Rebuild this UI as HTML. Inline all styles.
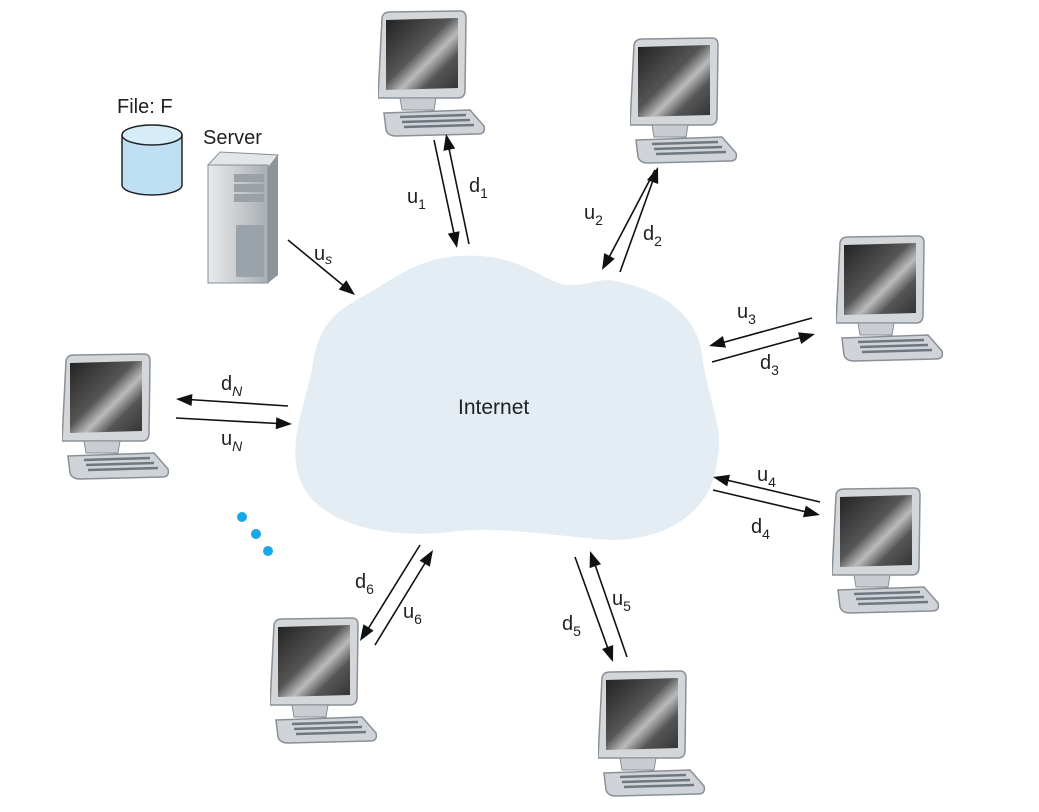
<!DOCTYPE html>
<html><head><style>html,body{margin:0;padding:0;background:#fff}svg{display:block}text{font-family:"Liberation Sans",sans-serif;fill:#222}</style></head>
<body>
<svg width="1039" height="812" viewBox="0 0 1039 812" xmlns="http://www.w3.org/2000/svg">
<defs>
<linearGradient id="scr" x1="0" y1="0" x2="1" y2="1">
<stop offset="0" stop-color="#222"/><stop offset="0.45" stop-color="#555"/><stop offset="0.6" stop-color="#bbb"/><stop offset="0.75" stop-color="#555"/><stop offset="1" stop-color="#333"/></linearGradient>
<linearGradient id="body" x1="0" y1="0" x2="1" y2="0"><stop offset="0" stop-color="#e8eaec"/><stop offset="1" stop-color="#a9aeb3"/></linearGradient>
<symbol id="pc" viewBox="0 0 120 130" width="120" height="130">
<path d="M0,88 L4,8 Q5,2 12,2 L82,1 Q88,1 88,8 L87,80 Q87,88 80,88 Z" fill="#d4d7da" stroke="#8a9096" stroke-width="1.5"/>
<path d="M8,10 L80,8 L80,78 L8,80 Z" fill="url(#scr)"/>
<path d="M22,88 L58,88 L56,100 L24,100 Z" fill="#c9cdd1" stroke="#8a9096"/>
<path d="M6,103 L92,100 L106,116 Q108,124 100,124 L18,126 Q10,126 8,120 Z" fill="#d0d4d8" stroke="#8a9096" stroke-width="1.5"/>
<path d="M22,107 L88,105 M24,112 L92,110 M26,117 L96,115" stroke="#6f7880" stroke-width="2.5"/>
</symbol>
</defs>

<path d="M460,256 C520,252 545,283 567,285 C590,286 600,276 620,282 C680,295 700,330 702,355 C708,400 725,430 717,460 C715,500 680,540 610,540 C560,537 500,525 450,532 C400,538 330,530 305,490 C285,455 300,420 312,370 C318,320 340,310 360,298 C400,275 420,258 460,256 Z" fill="#e4edf3"/>
<text x="458" y="414" font-size="21">Internet</text>

<use href="#pc" x="378" y="10"/>
<use href="#pc" x="630" y="37"/>
<use href="#pc" x="836" y="235"/>
<use href="#pc" x="62" y="353"/>
<use href="#pc" x="832" y="487"/>
<use href="#pc" x="598" y="670"/>
<use href="#pc" x="270" y="617"/>

<path d="M122,135 L122,185 A30,10 0 0 0 182,185 L182,135" fill="#bfe0f3" stroke="#222" stroke-width="1.5"/>
<ellipse cx="152" cy="135" rx="30" ry="10" fill="#d6ecf8" stroke="#222" stroke-width="1.5"/>
<text x="117" y="113" font-size="20">File: F</text>
<text x="203" y="144" font-size="20">Server</text>
<path d="M208,165 L220,152 L278,155 L268,168 Z" fill="#e3e6e8" stroke="#8a9096"/>
<path d="M268,168 L278,155 L278,275 L268,283 Z" fill="#8d949a"/>
<rect x="208" y="165" width="60" height="118" fill="url(#body)" stroke="#8a9096"/>
<rect x="234" y="174" width="30" height="8" fill="#9aa1a7"/>
<rect x="234" y="184" width="30" height="8" fill="#9aa1a7"/>
<rect x="234" y="194" width="30" height="8" fill="#9aa1a7"/>
<rect x="236" y="225" width="28" height="52" fill="#9ba3aa"/>

<g stroke="#111" stroke-width="1.6" fill="none">
<line x1="288" y1="240" x2="350" y2="291"/>
<line x1="434" y1="140" x2="456" y2="243"/>
<line x1="469" y1="244" x2="447" y2="139"/>
<line x1="655" y1="170" x2="605" y2="265"/>
<line x1="620" y1="272" x2="656" y2="172"/>
<line x1="812" y1="318" x2="714" y2="345"/>
<line x1="712" y1="362" x2="810" y2="335"/>
<line x1="288" y1="406" x2="181" y2="399"/>
<line x1="176" y1="418" x2="287" y2="424"/>
<line x1="820" y1="502" x2="718" y2="478"/>
<line x1="713" y1="490" x2="815" y2="514"/>
<line x1="575" y1="557" x2="611" y2="657"/>
<line x1="627" y1="657" x2="592" y2="556"/>
<line x1="420" y1="545" x2="363" y2="637"/>
<line x1="375" y1="645" x2="430" y2="555"/>
</g>
<g fill="#111">
<polygon points="355,295 338.8,289.5 346.4,280.3"/>
<polygon points="457,248 447.8,233.6 459.6,231.2"/>
<polygon points="446,134 455.2,148.5 443.4,150.9"/>
<polygon points="602,270 604.2,253.1 614.8,258.7"/>
<polygon points="658,167 658.2,184 647,180"/>
<polygon points="709,346 722.8,336 726,347.6"/>
<polygon points="815,334 801.2,344 798,332.4"/>
<polygon points="176,399 192.4,394 191.6,406"/>
<polygon points="292,424 275.7,429.2 276.3,417.2"/>
<polygon points="713,477 730,474.8 727.2,486.4"/>
<polygon points="820,515 803,517.2 805.8,505.6"/>
<polygon points="613,662 602,649 613.2,645"/>
<polygon points="590,551 601,564.1 589.6,568.1"/>
<polygon points="360,641 363.4,624.2 373.6,630.6"/>
<polygon points="433,550 429.8,566.8 419.6,560.6"/>
</g>

<g font-size="20">
<text x="314" y="260">u<tspan font-size="14" dy="4" font-style="italic">s</tspan></text>
<text x="407" y="203">u<tspan font-size="14" dy="6">1</tspan></text>
<text x="469" y="192">d<tspan font-size="14" dy="6">1</tspan></text>
<text x="584" y="219">u<tspan font-size="14" dy="6">2</tspan></text>
<text x="643" y="240">d<tspan font-size="14" dy="6">2</tspan></text>
<text x="737" y="318">u<tspan font-size="14" dy="6">3</tspan></text>
<text x="760" y="369">d<tspan font-size="14" dy="6">3</tspan></text>
<text x="221" y="390">d<tspan font-size="14" dy="6" font-style="italic">N</tspan></text>
<text x="221" y="445">u<tspan font-size="14" dy="6" font-style="italic">N</tspan></text>
<text x="757" y="481">u<tspan font-size="14" dy="6">4</tspan></text>
<text x="751" y="533">d<tspan font-size="14" dy="6">4</tspan></text>
<text x="612" y="605">u<tspan font-size="14" dy="6">5</tspan></text>
<text x="562" y="630">d<tspan font-size="14" dy="6">5</tspan></text>
<text x="355" y="588">d<tspan font-size="14" dy="6">6</tspan></text>
<text x="403" y="618">u<tspan font-size="14" dy="6">6</tspan></text>
</g>

<circle cx="242" cy="517" r="5" fill="#1aa7e8"/>
<circle cx="256" cy="534" r="5" fill="#1aa7e8"/>
<circle cx="268" cy="551" r="5" fill="#1aa7e8"/>
</svg>
</body></html>
